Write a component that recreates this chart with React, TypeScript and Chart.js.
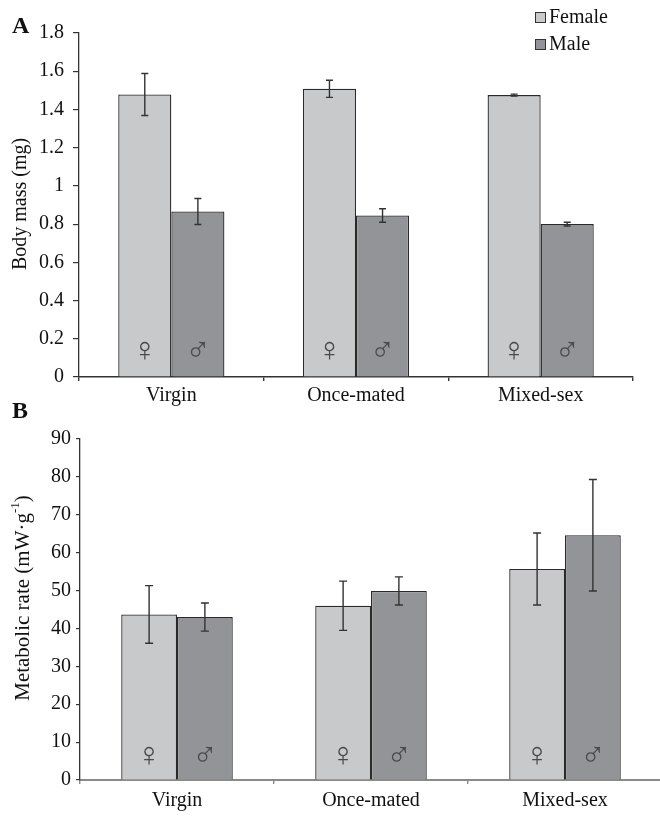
import React, { useEffect, useRef } from "react";
import { Chart, registerables } from "chart.js";

Chart.register(...registerables);

// ---------- data ----------
const categories = ["Virgin", "Once-mated", "Mixed-sex"];
const seriesNames = ["Female", "Male"];
const sexSymbols = ["\u2640", "\u2642"];

const bodyMassFemale = [1.478, 1.508, 1.475];
const bodyMassFemaleErr = [0.11, 0.045, 0.005];
const bodyMassMale = [0.866, 0.845, 0.8];
const bodyMassMaleErr = [0.068, 0.035, 0.01];
const bodyMassTicks = [0, 0.2, 0.4, 0.6, 0.8, 1, 1.2, 1.4, 1.6, 1.8];

const metabolicFemale = [43.7, 46.0, 55.7];
const metabolicFemaleErr = [7.6, 6.5, 9.5];
const metabolicMale = [43.0, 49.9, 64.6];
const metabolicMaleErr = [3.7, 3.7, 14.7];
const metabolicTicks = [0, 10, 20, 30, 40, 50, 60, 70, 80, 90];

// ---------- styles ----------
const FEMALE_COLOR = "#c8c9cb";
const MALE_COLOR = "#939498";
const BAR_BORDER = "#2a2a2a";
const SERIF = "'Liberation Serif', 'Times New Roman', serif";

type Part = { text: string; sup?: boolean };

function makePlugins(opts: {
  errs: number[][];
  capHalf: number;
  symbolOffset: number;
  title: Part[];
  titleSize: number;
  titleX: number;
  titleY: number;
  letter: string;
  letterY: number;
  legend: boolean;
}) {
  return [
    {
      id: "errbars",
      afterDatasetsDraw(chart: any) {
        const ctx = chart.ctx;
        const y = chart.scales.y;
        ctx.save();
        ctx.strokeStyle = "#333";
        ctx.lineWidth = 1.4;
        chart.data.datasets.forEach((ds: any, i: number) => {
          const meta = chart.getDatasetMeta(i);
          meta.data.forEach((el: any, j: number) => {
            const v = ds.data[j] as number;
            const e = opts.errs[i][j];
            const x = el.x;
            const t = y.getPixelForValue(v + e);
            const b = y.getPixelForValue(v - e);
            ctx.beginPath();
            ctx.moveTo(x, t);
            ctx.lineTo(x, b);
            ctx.moveTo(x - opts.capHalf, t);
            ctx.lineTo(x + opts.capHalf, t);
            ctx.moveTo(x - opts.capHalf, b);
            ctx.lineTo(x + opts.capHalf, b);
            ctx.stroke();
          });
        });
        // sex symbols
        ctx.fillStyle = "#4a4a4a";
        ctx.font = "200 34px 'DejaVu Sans'";
        ctx.textAlign = "center";
        ctx.textBaseline = "middle";
        chart.data.datasets.forEach((ds: any, i: number) => {
          const meta = chart.getDatasetMeta(i);
          meta.data.forEach((el: any) => {
            ctx.fillText(sexSymbols[i], el.x, chart.chartArea.bottom - opts.symbolOffset);
          });
        });
        ctx.restore();
      },
      afterDraw(chart: any) {
        const ctx = chart.ctx;
        ctx.save();
        // y title
        ctx.translate(opts.titleX, opts.titleY);
        ctx.rotate(-Math.PI / 2);
        ctx.fillStyle = "#111";
        ctx.textBaseline = "middle";
        ctx.textAlign = "left";
        const mainFont = `${opts.titleSize}px ${SERIF}`;
        const supFont = `${Math.round(opts.titleSize * 0.6)}px ${SERIF}`;
        let total = 0;
        opts.title.forEach((p) => {
          ctx.font = p.sup ? supFont : mainFont;
          total += ctx.measureText(p.text).width;
        });
        let cx = -total / 2;
        opts.title.forEach((p) => {
          ctx.font = p.sup ? supFont : mainFont;
          ctx.fillText(p.text, cx, p.sup ? -7 : 0);
          cx += ctx.measureText(p.text).width;
        });
        ctx.restore();

        ctx.save();
        ctx.fillStyle = "#111";
        ctx.font = `bold 24px ${SERIF}`;
        ctx.textAlign = "left";
        ctx.textBaseline = "alphabetic";
        ctx.fillText(opts.letter, 12, opts.letterY);
        if (opts.legend) {
          const colors = [FEMALE_COLOR, MALE_COLOR];
          ctx.font = `20px ${SERIF}`;
          ctx.textBaseline = "middle";
          seriesNames.forEach((name, i) => {
            const cy = 17 + 27 * i;
            ctx.fillStyle = colors[i];
            ctx.fillRect(535, cy - 5, 10, 10);
            ctx.strokeStyle = "#333";
            ctx.lineWidth = 1;
            ctx.strokeRect(535.5, cy - 4.5, 10, 10);
            ctx.fillStyle = "#111";
            ctx.fillText(name, 549, cy + 1);
          });
        }
        ctx.restore();
      },
    },
  ];
}

function buildConfig(p: {
  female: number[];
  male: number[];
  ticks: number[];
  yWidth: number;
  xHeight: number;
  padding: { left: number; right: number; top: number; bottom: number };
  yTickLen: number;
  yPad: number;
  xBorderColor: string;
  xBorderWidth: number;
  xPad: number;
}) {
  return {
    type: "bar" as const,
    data: {
      labels: categories,
      datasets: [
        {
          label: seriesNames[0],
          data: p.female,
          backgroundColor: FEMALE_COLOR,
          borderColor: BAR_BORDER,
          borderWidth: 1.3,
          categoryPercentage: 0.575,
          barPercentage: 1,
        },
        {
          label: seriesNames[1],
          data: p.male,
          backgroundColor: MALE_COLOR,
          borderColor: BAR_BORDER,
          borderWidth: 1.3,
          categoryPercentage: 0.575,
          barPercentage: 1,
        },
      ],
    },
    options: {
      responsive: false,
      maintainAspectRatio: false,
      animation: false as const,
      layout: { padding: p.padding },
      plugins: { legend: { display: false }, tooltip: { enabled: false } },
      scales: {
        x: {
          type: "category" as const,
          offset: true,
          grid: {
            offset: true,
            drawOnChartArea: false,
            drawTicks: true,
            tickLength: 4,
            color: p.xBorderColor,
            lineWidth: 1.4,
          },
          border: { color: p.xBorderColor, width: p.xBorderWidth },
          ticks: {
            font: { family: SERIF, size: 20 },
            color: "#111",
            padding: p.xPad,
            maxRotation: 0,
            autoSkip: false,
          },
          afterFit: (s: any) => {
            s.height = p.xHeight;
          },
        },
        y: {
          min: p.ticks[0],
          max: p.ticks[p.ticks.length - 1],
          afterBuildTicks: (s: any) => {
            s.ticks = p.ticks.map((v) => ({ value: v }));
          },
          grid: {
            drawOnChartArea: false,
            tickLength: p.yTickLen,
            color: "#333",
            lineWidth: 1.2,
          },
          border: { color: "#333", width: 1.3 },
          ticks: {
            font: { family: SERIF, size: 20 },
            color: "#111",
            padding: p.yPad,
            callback: (v: any) => String(v),
          },
          afterFit: (s: any) => {
            s.width = p.yWidth;
          },
        },
      },
    },
  };
}

export default function App() {
  const refA = useRef<HTMLCanvasElement | null>(null);
  const refB = useRef<HTMLCanvasElement | null>(null);

  useEffect(() => {
    if (!refA.current || !refB.current) return;
    const cfgA: any = buildConfig({
      female: bodyMassFemale,
      male: bodyMassMale,
      ticks: bodyMassTicks,
      yWidth: 79,
      xHeight: 43,
      padding: { left: 0, right: 27, top: 33, bottom: 0 },
      yTickLen: 6,
      yPad: 9,
      xBorderColor: "#333",
      xBorderWidth: 1.5,
      xPad: 3,
    });
    cfgA.plugins = makePlugins({
      errs: [bodyMassFemaleErr, bodyMassMaleErr],
      capHalf: 3.5,
      symbolOffset: 25,
      title: [{ text: "Body mass (mg)" }],
      titleSize: 20,
      titleX: 21,
      titleY: 204,
      letter: "A",
      letterY: 33,
      legend: true,
    });
    const cfgB: any = buildConfig({
      female: metabolicFemale,
      male: metabolicMale,
      ticks: metabolicTicks,
      yWidth: 80,
      xHeight: 37,
      padding: { left: 0, right: 0, top: 44, bottom: 0 },
      yTickLen: 4,
      yPad: 5,
      xBorderColor: "#8a8a8a",
      xBorderWidth: 2,
      xPad: 5,
    });
    cfgB.plugins = makePlugins({
      errs: [metabolicFemaleErr, metabolicMaleErr],
      capHalf: 4,
      symbolOffset: 23,
      title: [
        { text: "Metabolic rate (mW\u00B7g" },
        { text: "-1", sup: true },
        { text: ")" },
      ],
      titleSize: 21,
      titleX: 23,
      titleY: 203,
      letter: "B",
      letterY: 23,
      legend: false,
    });
    const a = new Chart(refA.current, cfgA);
    const b = new Chart(refB.current, cfgB);
    return () => {
      a.destroy();
      b.destroy();
    };
  }, []);

  return (
    <div
      style={{
        position: "absolute",
        left: 0,
        top: 0,
        width: 660,
        height: 817,
        overflow: "hidden",
        background: "#fff",
      }}
    >
      <canvas
        ref={refA}
        width={660}
        height={420}
        style={{ position: "absolute", left: 0, top: 0, width: 660, height: 420 }}
      />
      <canvas
        ref={refB}
        width={662}
        height={422}
        style={{ position: "absolute", left: 0, top: 395, width: 662, height: 422 }}
      />
    </div>
  );
}
